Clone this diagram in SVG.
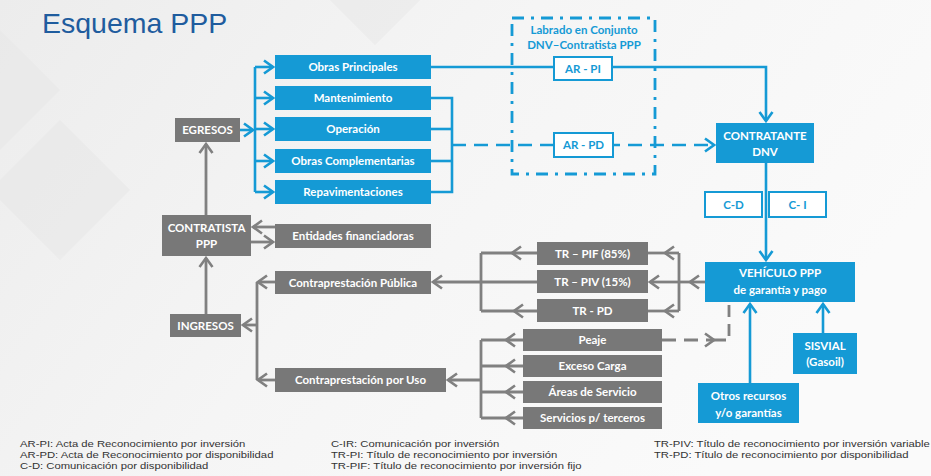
<svg xmlns="http://www.w3.org/2000/svg" width="931" height="476" viewBox="0 0 931 476">
<defs>
<linearGradient id="bg" x1="0" y1="0" x2="1" y2="0.4">
<stop offset="0" stop-color="#ececec"/>
<stop offset="0.5" stop-color="#f5f5f5"/>
<stop offset="1" stop-color="#fafafa"/>
</linearGradient>
<marker id="ab" viewBox="-11 -8 13 16" markerWidth="13" markerHeight="16" refX="0" refY="0" orient="auto" markerUnits="userSpaceOnUse">
<path d="M-9,-6.5 L0,0 L-9,6.5" fill="none" stroke="#159ad5" stroke-width="2.6"/>
</marker>
<marker id="ag" viewBox="-11 -8 13 16" markerWidth="13" markerHeight="16" refX="0" refY="0" orient="auto" markerUnits="userSpaceOnUse">
<path d="M-9,-6.5 L0,0 L-9,6.5" fill="none" stroke="#808080" stroke-width="2.6"/>
</marker>
</defs>
<style>
.bb{fill:#159ad5}
.gb{fill:#787878}
.wb{fill:#ffffff;stroke:#159ad5;stroke-width:2}
.t{font-family:Lato,"Open Sans","Liberation Sans",sans-serif;font-weight:700;font-size:11.5px;text-anchor:middle;fill:#ffffff}
.tb{fill:#159ad5}
.cb{fill:none;stroke:#159ad5;stroke-width:2.6}
.cg{fill:none;stroke:#808080;stroke-width:2.8}
.dash{stroke-dasharray:14 8}
.lg{font-family:"Liberation Sans",Arial,sans-serif;font-size:9.8px;fill:#333333}
</style>
<rect x="0" y="0" width="931" height="476" fill="url(#bg)"/>
<g fill="#e9e9e9" opacity="0.7">
<polygon points="0,30 60,90 0,150"/>
<polygon points="60,120 130,190 60,260 -10,190"/>
<polygon points="330,0 420,0 375,45"/>
</g>
<text x="42" y="33" font-family="'Liberation Sans',Arial,sans-serif" font-size="28.5" fill="#1f5c9e">Esquema PPP</text>

<g id="connectors">
<path class="cb" d="M240,130 L253,130" marker-end="url(#ab)"/>
<path class="cb" d="M255,67 L255,192"/>
<path class="cb" d="M255,67 L273,67" marker-end="url(#ab)"/>
<path class="cb" d="M255,98 L273,98" marker-end="url(#ab)"/>
<path class="cb" d="M255,129 L273,129" marker-end="url(#ab)"/>
<path class="cb" d="M255,161 L273,161" marker-end="url(#ab)"/>
<path class="cb" d="M255,192 L273,192" marker-end="url(#ab)"/>
<path class="cb" d="M431,98 L452,98 L452,192 L431,192"/>
<path class="cb" d="M431,129 L452,129"/>
<path class="cb" d="M431,161 L452,161"/>
<path class="cb dash" d="M452,145 L714,145" marker-end="url(#ab)"/>
<path class="cb" d="M431,67 L766,67 L766,121" marker-end="url(#ab)"/>
<path class="cb" d="M766,163 L766,260" marker-end="url(#ab)"/>
<path class="cb" d="M750,383 L750,304" marker-end="url(#ab)"/>
<path class="cb" d="M823,333 L823,304" marker-end="url(#ab)"/>
<rect x="512" y="18" width="143" height="156" fill="none" stroke="#159ad5" stroke-width="2.8" stroke-dasharray="12 7 3 7"/>

<path class="cg" d="M705,282 L690,282 L679,282" marker-mid="url(#ag)"/>
<path class="cg" d="M679,253 L679,311"/>
<path class="cg" d="M679,253 L665,253 L648,253" marker-mid="url(#ag)"/>
<path class="cg" d="M679,282 L650,282" marker-end="url(#ag)"/>
<path class="cg" d="M679,311 L665,311 L648,311" marker-mid="url(#ag)"/>
<path class="cg" d="M481,253 L481,311"/>
<path class="cg" d="M537,253 L512,253 L481,253" marker-mid="url(#ag)"/>
<path class="cg" d="M537,311 L514,311 L481,311" marker-mid="url(#ag)"/>
<path class="cg" d="M537,282 L433,282" marker-end="url(#ag)"/>
<path class="cg" d="M481,340 L481,418"/>
<path class="cg" d="M523,340 L506,340 L481,340" marker-mid="url(#ag)"/>
<path class="cg" d="M523,366 L506,366 L481,366" marker-mid="url(#ag)"/>
<path class="cg" d="M523,392 L506,392 L481,392" marker-mid="url(#ag)"/>
<path class="cg" d="M523,418 L506,418 L481,418" marker-mid="url(#ag)"/>
<path class="cg" d="M481,380 L448,380" marker-end="url(#ag)"/>
<path class="cg" d="M257,282 L257,380"/>
<path class="cg" d="M275,282 L258,282" marker-end="url(#ag)"/>
<path class="cg" d="M275,380 L258,380" marker-end="url(#ag)"/>
<path class="cg" d="M257,325 L243,325" marker-end="url(#ag)"/>
<path class="cg" d="M206,314 L206,258" marker-end="url(#ag)"/>
<path class="cg" d="M206,215 L206,144" marker-end="url(#ag)"/>
<path class="cg" d="M275,227 L253,227" marker-end="url(#ag)"/>
<path class="cg" d="M251,242 L273,242" marker-end="url(#ag)"/>
<path class="cg dash" d="M662,340 L714,340" marker-end="url(#ag)"/>
<path class="cg" stroke-dasharray="12 7" d="M714,340 L729,340 L729,302"/>
</g>

<g id="labrado"><text class="t tb" x="584" y="34">Labrado en Conjunto</text><text class="t tb" x="584" y="49">DNV–Contratista PPP</text></g>
<g id="ar-pi"><rect class="wb" x="554" y="57" width="58" height="23"/><text class="t tb" x="583" y="72.5">AR - PI</text></g>
<g id="ar-pd"><rect class="wb" x="554" y="133" width="59" height="24"/><text class="t tb" x="583.5" y="149">AR - PD</text></g>

<g id="egresos"><rect class="gb" x="175" y="118" width="65" height="24"/><text class="t" x="207.5" y="134">EGRESOS</text></g>
<g id="obras-principales"><rect class="bb" x="275" y="55" width="156" height="24"/><text class="t" x="353" y="71">Obras Principales</text></g>
<g id="mantenimiento"><rect class="bb" x="275" y="86" width="156" height="24"/><text class="t" x="353" y="102">Mantenimiento</text></g>
<g id="operacion"><rect class="bb" x="275" y="117" width="156" height="24"/><text class="t" x="353" y="133">Operación</text></g>
<g id="obras-complementarias"><rect class="bb" x="275" y="149" width="156" height="24"/><text class="t" x="353" y="165">Obras Complementarias</text></g>
<g id="repavimentaciones"><rect class="bb" x="275" y="180" width="156" height="24"/><text class="t" x="353" y="196">Repavimentaciones</text></g>

<g id="contratante"><rect class="bb" x="716" y="123" width="98" height="40"/><text class="t" x="765" y="140">CONTRATANTE</text><text class="t" x="765" y="156">DNV</text></g>
<g id="c-d"><rect class="wb" x="705" y="192" width="57" height="25"/><text class="t tb" x="733.5" y="208.5">C-D</text></g>
<g id="c-i"><rect class="wb" x="769" y="192" width="57" height="25"/><text class="t tb" x="797.5" y="208.5">C- I</text></g>
<g id="vehiculo"><rect class="bb" x="705" y="262" width="150" height="40"/><text class="t" x="780" y="277">VEHÍCULO PPP</text><text class="t" x="780" y="294">de garantía y pago</text></g>
<g id="otros"><rect class="bb" x="698" y="383" width="101" height="40"/><text class="t" x="748.5" y="400">Otros recursos</text><text class="t" x="748.5" y="417">y/o garantías</text></g>
<g id="sisvial"><rect class="bb" x="793" y="333" width="64" height="41"/><text class="t" x="825" y="350">SISVIAL</text><text class="t" x="825" y="366">(Gasoil)</text></g>

<g id="contratista"><rect class="gb" x="162" y="215" width="89" height="41"/><text class="t" x="206.5" y="232">CONTRATISTA</text><text class="t" x="206.5" y="248">PPP</text></g>
<g id="entidades"><rect class="gb" x="275" y="224" width="156" height="24"/><text class="t" x="353" y="240">Entidades financiadoras</text></g>
<g id="ingresos"><rect class="gb" x="170" y="314" width="71" height="23"/><text class="t" x="205.5" y="329.5">INGRESOS</text></g>
<g id="contraprestacion-publica"><rect class="gb" x="275" y="271" width="156" height="23"/><text class="t" x="353" y="286.5">Contraprestación Pública</text></g>
<g id="contraprestacion-uso"><rect class="gb" x="275" y="368" width="171" height="24"/><text class="t" x="360.5" y="384">Contraprestación por Uso</text></g>
<g id="tr-pif"><rect class="gb" x="537" y="242" width="111" height="23"/><text class="t" x="592.5" y="257.5">TR – PIF (85%)</text></g>
<g id="tr-piv"><rect class="gb" x="537" y="270" width="111" height="23"/><text class="t" x="592.5" y="285.5">TR – PIV (15%)</text></g>
<g id="tr-pd"><rect class="gb" x="537" y="299" width="111" height="23"/><text class="t" x="592.5" y="314.5">TR - PD</text></g>
<g id="peaje"><rect class="gb" x="523" y="329" width="139" height="22"/><text class="t" x="592.5" y="344">Peaje</text></g>
<g id="exceso"><rect class="gb" x="523" y="355" width="139" height="22"/><text class="t" x="592.5" y="370">Exceso Carga</text></g>
<g id="areas"><rect class="gb" x="523" y="381" width="139" height="22"/><text class="t" x="592.5" y="396">Áreas de Servicio</text></g>
<g id="servicios"><rect class="gb" x="523" y="407" width="139" height="22"/><text class="t" x="592.5" y="422">Servicios p/ terceros</text></g>

<g id="legend" transform="scale(1.15,1)">
<text class="lg" x="17.4" y="447.5">AR-PI: Acta de Reconocimiento por inversión</text>
<text class="lg" x="17.4" y="458.5">AR-PD: Acta de Reconocimiento por disponibilidad</text>
<text class="lg" x="17.4" y="469.5">C-D: Comunicación por disponibilidad</text>
<text class="lg" x="287.8" y="447.5">C-IR: Comunicación por inversión</text>
<text class="lg" x="287.8" y="458.5">TR-PI: Título de reconocimiento por inversión</text>
<text class="lg" x="287.8" y="469.5">TR-PIF: Título de reconocimiento por inversión fijo</text>
<text class="lg" x="568.7" y="447.5">TR-PIV: Título de reconocimiento por inversión variable</text>
<text class="lg" x="568.7" y="458.5">TR-PD: Título de reconocimiento por disponibilidad</text>
</g>
</svg>
